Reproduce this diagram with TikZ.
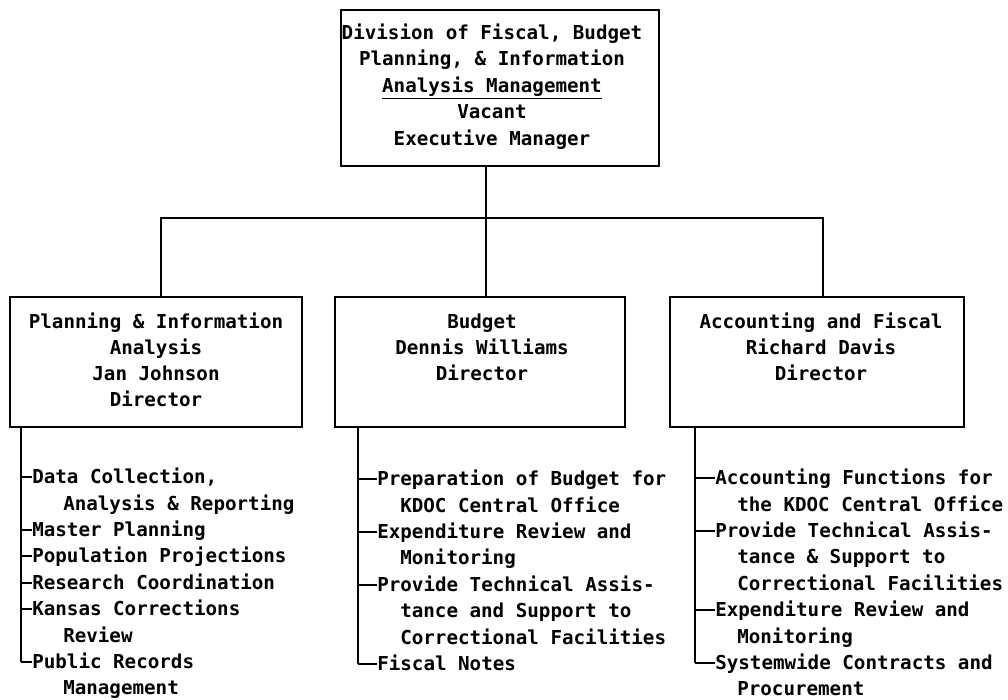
\documentclass[tikz,border=0pt]{standalone}
\usepackage{fontspec}
\newfontfamily\orgmono{DejaVu Sans Mono}
\begin{document}
\begin{tikzpicture}[x=0.75pt,y=-0.75pt,
  box/.style={draw, line width=1.5pt, inner sep=0pt},
  line/.style={line width=1.5pt},
  btext/.style={align=center, inner sep=0pt, font=\orgmono\bfseries\fontsize{14.4}{19.6}\selectfont},
  item/.style={align=left, anchor=north west, inner sep=0pt, font=\orgmono\bfseries\fontsize{14.4}{19.8}\selectfont}]
\useasboundingbox (0,0) rectangle (1008,700);
\fill[white] (0,0) rectangle (1008,700);

% boxes
\node[box, minimum width=238.5pt, minimum height=117pt] (top) at (500,88) {};
\node[box, minimum width=219pt, minimum height=97.5pt] (left) at (156,362) {};
\node[box, minimum width=217.5pt, minimum height=97.5pt] (mid) at (480,362) {};
\node[box, minimum width=220.5pt, minimum height=97.5pt] (right) at (817,362) {};

% box texts
\node[btext, font=\orgmono\bfseries\fontsize{14.4}{19.9}\selectfont] (toptext) at (492,87) {\strut Division of Fiscal, Budget\\\strut Planning, \& Information\\\strut\underline{Analysis Management}\\\strut Vacant\\\strut Executive Manager};
\node[btext] (lefttext) at (156,362) {\strut Planning \& Information\\\strut Analysis\\\strut Jan Johnson\\\strut Director};
\node[btext] (midtext) at (482,349) {\strut Budget\\\strut Dennis Williams\\\strut Director};
\node[btext] (righttext) at (821,349) {\strut Accounting and Fiscal\\\strut Richard Davis\\\strut Director};

% connectors between boxes
\coordinate (j) at (486,218);
\coordinate (hl) at (161,218);
\coordinate (hr) at (823,218);
\draw[line] (j |- top.south) -- (j) -- (j |- mid.north);
\draw[line] (hl |- left.north) -- (hl) -- (hr) -- (hr |- right.north);

% left list
\node[item] (l1) at (32,465) {\strut Data Collection,\\\strut\hspace*{23.25pt}Analysis \& Reporting};
\node[item] (l2) at (32,517.8) {\strut Master Planning};
\node[item] (l3) at (32,544.2) {\strut Population Projections};
\node[item] (l4) at (32,570.6) {\strut Research Coordination};
\node[item] (l5) at (32,597) {\strut Kansas Corrections\\\strut\hspace*{23.25pt}Review};
\node[item] (l6) at (32,649.8) {\strut Public Records\\\strut\hspace*{23.25pt}Management};
\coordinate (l1s) at (21,477);
\coordinate (l2s) at (21,529.8);
\coordinate (l3s) at (21,556.2);
\coordinate (l4s) at (21,582.6);
\coordinate (l5s) at (21,609);
\coordinate (l6s) at (21,661.8);
\draw[line] (left.south -| l1s) -- (l6s);
\foreach \i in {1,...,6} { \draw[line] (l\i s) -- (l\i s -| l\i.west); }

% middle list
\node[item] (m1) at (377,467) {\strut Preparation of Budget for\\\strut\hspace*{17.25pt}KDOC Central Office};
\node[item] (m2) at (377,519.8) {\strut Expenditure Review and\\\strut\hspace*{17.25pt}Monitoring};
\node[item] (m3) at (377,572.6) {\strut Provide Technical Assis-\\\strut\hspace*{17.25pt}tance and Support to\\\strut\hspace*{17.25pt}Correctional Facilities};
\node[item] (m4) at (377,651.8) {\strut Fiscal Notes};
\coordinate (m1s) at (358,479);
\coordinate (m2s) at (358,531.8);
\coordinate (m3s) at (358,584.6);
\coordinate (m4s) at (358,663.8);
\draw[line] (mid.south -| m1s) -- (m4s);
\foreach \i in {1,...,4} { \draw[line] (m\i s) -- (m\i s -| m\i.west); }

% right list
\node[item] (r1) at (715,466) {\strut Accounting Functions for\\\strut\hspace*{16.5pt}the KDOC Central Office};
\node[item] (r2) at (715,518.8) {\strut Provide Technical Assis-\\\strut\hspace*{16.5pt}tance \& Support to\\\strut\hspace*{16.5pt}Correctional Facilities};
\node[item] (r3) at (715,598) {\strut Expenditure Review and\\\strut\hspace*{16.5pt}Monitoring};
\node[item] (r4) at (715,650.8) {\strut Systemwide Contracts and\\\strut\hspace*{16.5pt}Procurement};
\coordinate (r1s) at (695,478);
\coordinate (r2s) at (695,530.8);
\coordinate (r3s) at (695,610);
\coordinate (r4s) at (695,662.8);
\draw[line] (right.south -| r1s) -- (r4s);
\foreach \i in {1,...,4} { \draw[line] (r\i s) -- (r\i s -| r\i.west); }
\end{tikzpicture}
\end{document}
